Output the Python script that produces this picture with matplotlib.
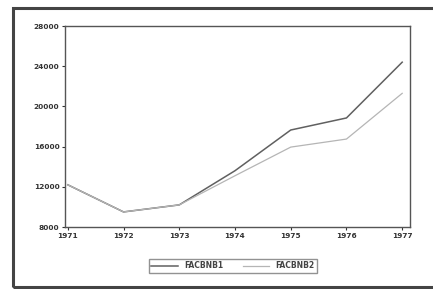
import matplotlib.pyplot as plt
from matplotlib.patches import Rectangle

years = [1971, 1972, 1973, 1974, 1975, 1976, 1977]
facbnb1 = [12200, 9500, 10200, 13600, 17650, 18850, 24400]
facbnb2 = [12200, 9500, 10200, 13100, 15950, 16750, 21300]
y_ticks = [8000, 12000, 16000, 20000, 24000, 28000]

fig = plt.figure(figsize=(4.33, 2.89), dpi=100)
fig.patch.set_facecolor("white")

# outer frame of the scanned page
fig.patches.append(Rectangle((13 / 433, 2 / 289), 1.2, 279 / 289,
                             transform=fig.transFigure, fill=False,
                             edgecolor="#444444", linewidth=2.2))

ax = fig.add_axes([65 / 433, 1 - 227 / 289, 345 / 433, 201 / 289])
ax.plot(years, facbnb1, color="#606060", linewidth=1.1, label="FACBNB1")
ax.plot(years, facbnb2, color="#b5b5b5", linewidth=0.9, label="FACBNB2")

ax.set_xlim(1970.95, 1977.14)
ax.set_ylim(8000, 28000)
ax.set_xticks(years)
ax.set_yticks(y_ticks)
ax.tick_params(labelsize=5.3, colors="#333333", length=2, width=0.8, pad=2)
for lbl in ax.get_xticklabels() + ax.get_yticklabels():
    lbl.set_fontweight("bold")
for s in ax.spines.values():
    s.set_color("#555555")
    s.set_linewidth(1.0)

leg = fig.legend(loc="center", bbox_to_anchor=(233 / 433, 1 - 266 / 289),
                 ncol=2, fontsize=5.5, frameon=True, fancybox=False,
                 edgecolor="#777777", handlelength=3.5, columnspacing=2.5,
                 borderpad=0.3)
for t in leg.get_texts():
    t.set_color("#444444")
    t.set_fontweight("bold")

fig.savefig("out.png", dpi=100)
